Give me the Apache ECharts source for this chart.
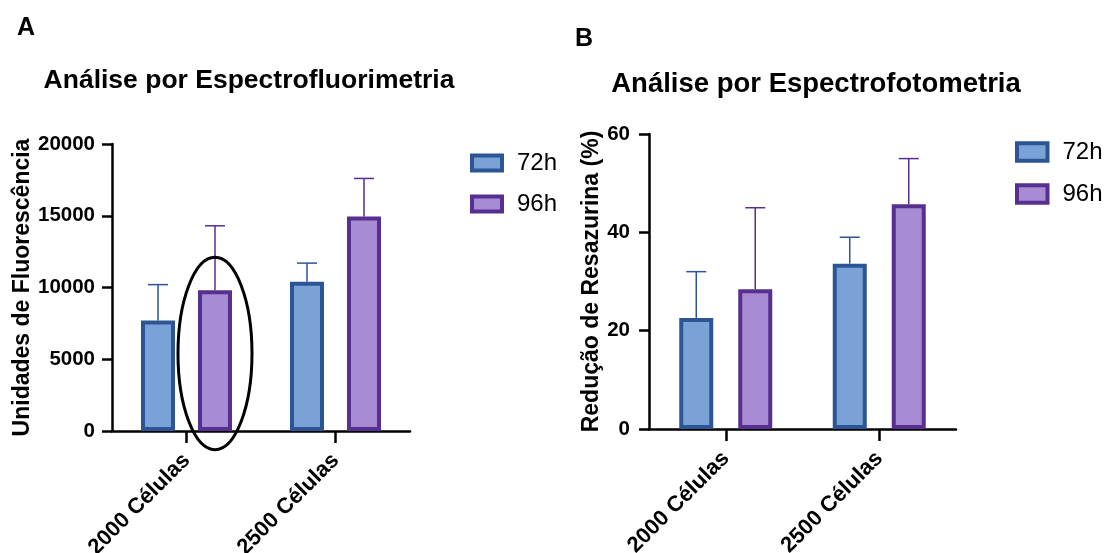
<!DOCTYPE html>
<html><head><meta charset="utf-8">
<script src="https://cdn.jsdelivr.net/npm/echarts@6/dist/echarts.min.js"></script>
<style>html,body{margin:0;padding:0;background:#fff}#c{width:1107px;height:553px}</style>
</head><body><div id="c"></div>
<script>
// ---- data ----
const categories = ['2000 Células', '2500 Células'];
const seriesNames = ['72h', '96h'];
const fluor72 = [7700, 10400];
const fluor72Upper = [10200, 11700];
const fluor96 = [9800, 14950];
const fluor96Upper = [14300, 17600];
const reduc72 = [22.6, 33.6];
const reduc72Upper = [32, 39];
const reduc96 = [28.4, 45.7];
const reduc96Upper = [45, 55];
const fluorTicks = [0, 5000, 10000, 15000, 20000];
const reducTicks = [0, 20, 40, 60];

// ---- styles ----
const F = '"Liberation Sans", Arial, Helvetica, sans-serif';
const FILL72 = '#7ba2d6', BORDER72 = '#2c5596';
const FILL96 = '#a78bd3', BORDER96 = '#562f91';
const BW = 34, BORDER = 4;
const GAP_A = 0.676, GAP_B = 0.735;
const OFF_A = (BW + BW * GAP_A) / 2, OFF_B = (BW + BW * GAP_B) / 2;

const chart = echarts.init(document.getElementById('c'), null, {renderer: 'canvas'});

function yAxis(grid, ticks, name, nameGap, margin) {
  return {
    type: 'value', gridIndex: grid,
    min: ticks[0], max: ticks[ticks.length - 1], interval: ticks[1] - ticks[0],
    name: name, nameLocation: 'middle', nameGap: nameGap,
    nameTextStyle: {fontSize: 23, fontWeight: 'bold', color: '#000', fontFamily: F},
    axisLine: {show: true, lineStyle: {color: '#000', width: 2.5}},
    axisTick: {show: true, length: 10, lineStyle: {color: '#000', width: 2.5}},
    axisLabel: {fontSize: 20.5, fontWeight: 'bold', color: '#000', margin: margin, fontFamily: F,
      formatter: v => String(v)},
    splitLine: {show: false}
  };
}
function xAxis(grid) {
  return {
    type: 'category', gridIndex: grid, data: categories,
    axisLine: {show: true, lineStyle: {color: '#000', width: 2.5}},
    axisTick: {show: true, alignWithLabel: true, length: 12, lineStyle: {color: '#000', width: 2.5}},
    axisLabel: {rotate: 45, interval: 0, fontSize: 22, fontWeight: 'bold', color: '#000', margin: 26, fontFamily: F},
    splitLine: {show: false}
  };
}
function bar(name, grid, data, fill, border, gap) {
  return {
    type: 'bar', name: name, xAxisIndex: grid, yAxisIndex: grid, data: data,
    barWidth: BW, barGap: (gap * 100) + '%', z: 3,
    itemStyle: {color: fill, borderColor: border, borderWidth: BORDER},
    emphasis: {disabled: true}
  };
}
function err(grid, means, uppers, side, color, offset) {
  return {
    type: 'custom', xAxisIndex: grid, yAxisIndex: grid, z: 1, silent: true,
    data: means.map((m, i) => [i, m, uppers[i]]),
    renderItem: function (params, api) {
      const p0 = api.coord([api.value(0), api.value(1)]);
      const p1 = api.coord([api.value(0), api.value(2)]);
      const x = p0[0] + side * offset;
      return {type: 'group', children: [
        {type: 'line', shape: {x1: x, y1: p0[1], x2: x, y2: p1[1]}, style: {stroke: color, lineWidth: 1.5}},
        {type: 'line', shape: {x1: x - 10, y1: p1[1], x2: x + 10, y2: p1[1]}, style: {stroke: color, lineWidth: 1.5}}
      ]};
    }
  };
}
function legend(left, top, iw, ih, gap) {
  return {
    data: seriesNames, orient: 'vertical', left: left, top: top, padding: 0,
    itemWidth: iw, itemHeight: ih, itemGap: gap, icon: 'rect', selectedMode: false,
    itemStyle: {borderWidth: BORDER},
    textStyle: {fontSize: 24, color: '#000', fontFamily: F, padding: [0, 0, 0, 10]}
  };
}
function txt(x, y, text, size) {
  return {type: 'text', x: x, y: y, silent: true,
    style: {text: text, fontSize: size, fontWeight: 'bold', fontFamily: F, fill: '#000', align: 'center', verticalAlign: 'middle'}};
}

chart.setOption({
  animation: false,
  grid: [
    {left: 112, top: 144, width: 298, height: 287, containLabel: false, outerBoundsMode: 'none'},
    {left: 649, top: 134, width: 307, height: 295, containLabel: false, outerBoundsMode: 'none'}
  ],
  xAxis: [xAxis(0), xAxis(1)],
  yAxis: [
    yAxis(0, fluorTicks, 'Unidades de Fluorescência', 77, 17),
    yAxis(1, reducTicks, 'Redução de Resazurina (%)', 46, 19)
  ],
  legend: [legend(470, 151, 30, 15, 17), legend(1015, 140, 30.5, 17.5, 18)],
  series: [
    bar(seriesNames[0], 0, fluor72, FILL72, BORDER72, GAP_A),
    bar(seriesNames[1], 0, fluor96, FILL96, BORDER96, GAP_A),
    bar(seriesNames[0], 1, reduc72, FILL72, BORDER72, GAP_B),
    bar(seriesNames[1], 1, reduc96, FILL96, BORDER96, GAP_B),
    err(0, fluor72, fluor72Upper, -1, BORDER72, OFF_A),
    err(0, fluor96, fluor96Upper, 1, BORDER96, OFF_A),
    err(1, reduc72, reduc72Upper, -1, BORDER72, OFF_B),
    err(1, reduc96, reduc96Upper, 1, BORDER96, OFF_B)
  ]
});

const titles = [
  txt(26, 28, 'A', 25),
  txt(584, 39, 'B', 25),
  txt(249, 81, 'Análise por Espectrofluorimetria', 26.5),
  txt(816, 84, 'Análise por Espectrofotometria', 27.5)
];
// annotation ellipse around the 96h bar of "2000 Células" (panel A)
const lay = chart.getModel().getSeriesByIndex(1).getData().getItemLayout(0);
const cx = lay.x + lay.width / 2;
const yTop = chart.convertToPixel({yAxisIndex: 0}, 12100);
const yBot = chart.convertToPixel({yAxisIndex: 0}, -1300);
chart.setOption({
  graphic: titles.concat([
    {type: 'ellipse', z: 10, silent: true,
     shape: {cx: cx, cy: (yTop + yBot) / 2, rx: 37, ry: (yBot - yTop) / 2},
     style: {fill: 'none', stroke: '#000', lineWidth: 3}}
  ])
});
</script></body></html>
